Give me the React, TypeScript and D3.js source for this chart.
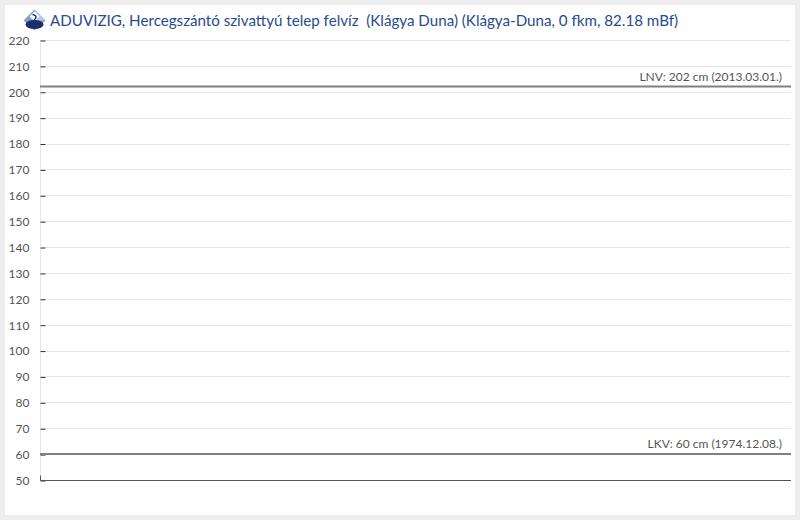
import React, { useRef, useEffect } from 'react';
import * as d3 from 'd3';

const TITLE = 'ADUVIZIG, Hercegszántó szivattyú telep felvíz  (Klágya Duna) (Klágya-Duna, 0 fkm, 82.18 mBf)';
const Y_DOMAIN: [number, number] = [50, 220];
const Y_TICKS = [50, 60, 70, 80, 90, 100, 110, 120, 130, 140, 150, 160, 170, 180, 190, 200, 210, 220];
const REF_VALUES = [202, 60];
const REF_LABELS = ['LNV: 202 cm (2013.03.01.)', 'LKV: 60 cm (1974.12.08.)'];

const W = 800;
const H = 520;
const M = { left: 40, right: 9, top: 40, bottom: 40 };

const App: React.FC = () => {
  const svgRef = useRef<SVGSVGElement>(null);

  useEffect(() => {
    if (!svgRef.current) return;
    const svg = d3.select(svgRef.current);
    svg.selectAll('*').remove();

    // fond gris + panneau blanc
    svg.append('rect').attr('width', W).attr('height', H).attr('fill', '#eeeeee');
    svg.append('rect').attr('x', 5).attr('y', 5).attr('width', W - 10).attr('height', H - 10).attr('fill', '#ffffff');

    const x0 = M.left;
    const x1 = W - M.right;
    const y = d3.scaleLinear().domain(Y_DOMAIN).range([H - M.bottom, M.top]);

    // grille
    svg.append('g')
      .selectAll('line')
      .data(Y_TICKS)
      .join('line')
      .attr('x1', x0)
      .attr('x2', x1)
      .attr('y1', d => Math.round(y(d)) + 0.5)
      .attr('y2', d => Math.round(y(d)) + 0.5)
      .attr('stroke', '#e6e6e6')
      .attr('stroke-width', 1);

    // axe Y
    const axis = svg.append('g')
      .attr('transform', `translate(${x0 + 0.5},0.5)`)
      .call(d3.axisLeft(y).tickValues(Y_TICKS).tickSize(-5).tickPadding(11));
    axis.select('.domain').attr('stroke', '#e6e6e6').attr('d', `M0,${y(Y_DOMAIN[1])}V${y(Y_DOMAIN[0])}`);
    axis.selectAll('.tick line').attr('stroke', '#333').attr('y1', 0).attr('y2', 0);
    axis.selectAll('.tick text')
      .attr('fill', '#555')
      .style('font-family', 'Lato, sans-serif')
      .style('font-size', '12px');

    // axe X (ligne du bas)
    const yb = Math.round(y(Y_DOMAIN[0])) + 0.5;
    svg.append('line')
      .attr('x1', x0 + 0.5).attr('x2', x1).attr('y1', yb).attr('y2', yb)
      .attr('stroke', '#555').attr('stroke-width', 1);
    svg.append('line')
      .attr('x1', x0 + 0.5).attr('x2', x0 + 0.5).attr('y1', yb - 5).attr('y2', yb)
      .attr('stroke', '#555').attr('stroke-width', 1);

    // lignes de référence
    REF_VALUES.forEach((v, i) => {
      const yy = y(v);
      svg.append('line')
        .attr('x1', x0).attr('x2', x1).attr('y1', yy).attr('y2', yy)
        .attr('stroke', '#808080').attr('stroke-width', 2);
      svg.append('text')
        .attr('x', x1 - 9)
        .attr('y', yy - 6)
        .attr('text-anchor', 'end')
        .attr('fill', '#555')
        .style('font-family', 'Lato, sans-serif')
        .style('font-size', '12px')
        .text(REF_LABELS[i]);
    });

    // icône
    const icon = svg.append('g').attr('transform', 'translate(34.5,19.5)');
    icon.append('path').attr('d', 'M0,-10 L11,1 L0,11 L-11,1 Z').attr('fill', '#7d9fc9');
    icon.append('path').attr('d', 'M0,-10 L11,1 L0,1 Z').attr('fill', '#b5cbe6');
    icon.append('path').attr('d', 'M-5,-3 L0,-8 L5,-3 L0,2 Z').attr('fill', '#ffffff');
    icon.append('ellipse').attr('cx', 0).attr('cy', 5).attr('rx', 9).attr('ry', 4.5).attr('fill', '#1d2f6b');
    icon.append('path').attr('d', 'M-2,-5 Q3,-4 1,-1 Q-2,1 2,3').attr('fill', 'none').attr('stroke', '#1d2f6b').attr('stroke-width', 1.4);

    // titre
    svg.append('text')
      .attr('x', 50)
      .attr('y', 26)
      .attr('fill', '#274b8e')
      .style('font-family', 'Lato, sans-serif')
      .style('font-size', '15.15px')
      .style('white-space', 'pre')
      .text(TITLE);
  }, []);

  return (
    <svg ref={svgRef} width={W} height={H} style={{ position: 'absolute', left: 0, top: 0 }}></svg>
  );
};

export default App;
